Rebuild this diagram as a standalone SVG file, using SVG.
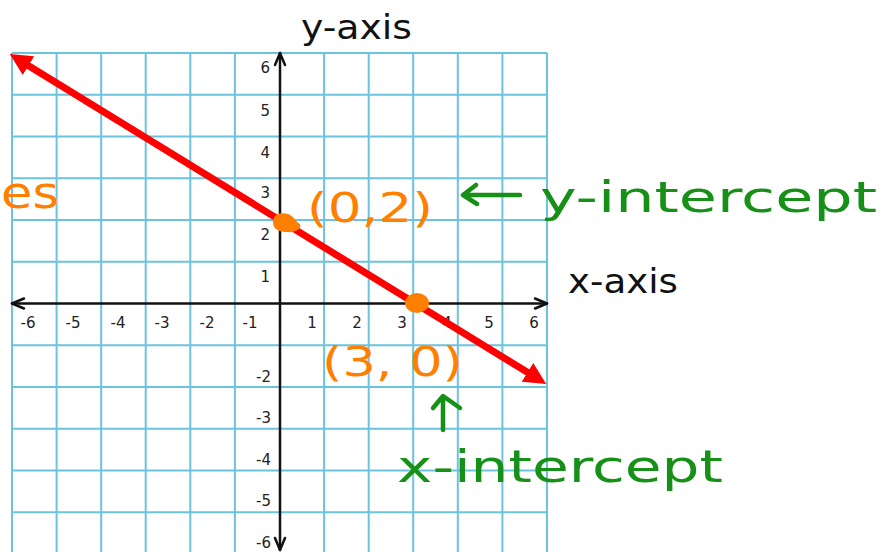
<svg xmlns="http://www.w3.org/2000/svg" width="885" height="552" viewBox="0 0 885 552">
  <style>
    .grid { stroke: #6cc3dd; stroke-width: 2; fill: none; }
    .axis { stroke: #111; stroke-width: 2.5; fill: none; stroke-linecap: round; stroke-linejoin: round; }
    .tick { font-family: "DejaVu Sans", sans-serif; font-size: 15px; fill: #222; }
    .title { font-family: "DejaVu Sans", sans-serif; font-size: 33px; fill: #111; }
    .hand-o { font-family: "DejaVu Sans", sans-serif; fill: #ff8000; }
    .hand-g { font-family: "DejaVu Sans", sans-serif; fill: #169016; }
    .garrow { stroke: #169016; stroke-width: 4.5; fill: none; stroke-linecap: round; stroke-linejoin: round; }
    .redline { stroke: #ff0000; stroke-width: 7; fill: none; }
  </style>
  <defs>
    <marker id="redhead" viewBox="0 0 22 22" markerUnits="userSpaceOnUse" markerWidth="22" markerHeight="22" refX="10" refY="11" orient="auto-start-reverse">
      <path d="M0,0 L22,11 L0,22 Z" fill="#ff0000"/>
    </marker>
  </defs>
  <rect width="885" height="552" fill="#ffffff"/>

  <g id="grid" class="grid">
    <path d="M12,53V552 M56.6,53V552 M101.2,53V552 M145.7,53V552 M190.3,53V552 M234.9,53V552 M324.1,53V552 M368.7,53V552 M413.2,53V552 M457.8,53V552 M502.4,53V552 M547,53V552"/>
    <path d="M12,53H547 M12,94.75H547 M12,136.5H547 M12,178.25H547 M12,220H547 M12,261.75H547 M12,345.25H547 M12,387H547 M12,428.75H547 M12,470.5H547 M12,512.25H547"/>
  </g>

  <g id="axes" class="axis">
    <path d="M12,303.5H547"/>
    <path d="M280,53V550"/>
    <path d="M24,298.5 L12,303.5 L24,308.5"/>
    <path d="M535,298.5 L547,303.5 L535,308.5"/>
    <path d="M275,65 L280,53 L285,65"/>
    <path d="M275,538 L280,550 L285,538"/>
  </g>

  <g id="tick-labels" class="tick">
    <g text-anchor="end">
      <text x="270" y="73">6</text>
      <text x="270" y="116">5</text>
      <text x="270" y="158">4</text>
      <text x="270" y="198">3</text>
      <text x="270" y="240">2</text>
      <text x="270" y="282">1</text>
      <text x="271" y="382">-2</text>
      <text x="271" y="423">-3</text>
      <text x="271" y="465">-4</text>
      <text x="271" y="506">-5</text>
      <text x="271" y="548">-6</text>
    </g>
    <g text-anchor="middle">
      <text x="28" y="328">-6</text>
      <text x="73" y="328">-5</text>
      <text x="118" y="328">-4</text>
      <text x="162" y="328">-3</text>
      <text x="207" y="328">-2</text>
      <text x="250" y="328">-1</text>
      <text x="312" y="328">1</text>
      <text x="357" y="328">2</text>
      <text x="402" y="328">3</text>
      <text x="447" y="328">4</text>
      <text x="489" y="328">5</text>
      <text x="534" y="328">6</text>
    </g>
  </g>

  <g id="axis-titles" class="title">
    <text x="301" y="39" textLength="111" lengthAdjust="spacingAndGlyphs">y-axis</text>
    <text x="568" y="293" textLength="110" lengthAdjust="spacingAndGlyphs">x-axis</text>
  </g>

  <g id="connectors">
    <path id="line" class="redline" d="M20,60.4 L536,377.6" marker-start="url(#redhead)" marker-end="url(#redhead)"/>
  </g>

  <g id="points" fill="#ff8000">
    <path id="pt-y" d="M273,222 C273,214 281,212 288,214 C294,216 296,222 300,224 C302,228 296,233 288,232 C280,232 273,230 273,222 Z"/>
    <ellipse id="pt-x" cx="417" cy="303" rx="12" ry="10"/>
  </g>

  <g id="annotations">
    <text class="hand-o" x="1" y="208" font-size="44" textLength="58" lengthAdjust="spacingAndGlyphs">es</text>
    <text class="hand-o" x="307" y="222" font-size="40" textLength="126" lengthAdjust="spacingAndGlyphs">(0,2)</text>
    <text class="hand-o" x="322" y="376" font-size="40" textLength="141" lengthAdjust="spacingAndGlyphs">(3, 0)</text>
    <g id="y-intercept-label">
      <path class="garrow" d="M464,195 H520 M476,185 L463,195 L477,204"/>
      <text class="hand-g" x="540" y="212" font-size="42" textLength="337" lengthAdjust="spacingAndGlyphs">y-intercept</text>
    </g>
    <g id="x-intercept-label">
      <path class="garrow" d="M443,430 V397 M433,408 L443,396 L460,408"/>
      <text class="hand-g" x="397" y="482" font-size="44" textLength="326" lengthAdjust="spacingAndGlyphs">x-intercept</text>
    </g>
  </g>
</svg>
